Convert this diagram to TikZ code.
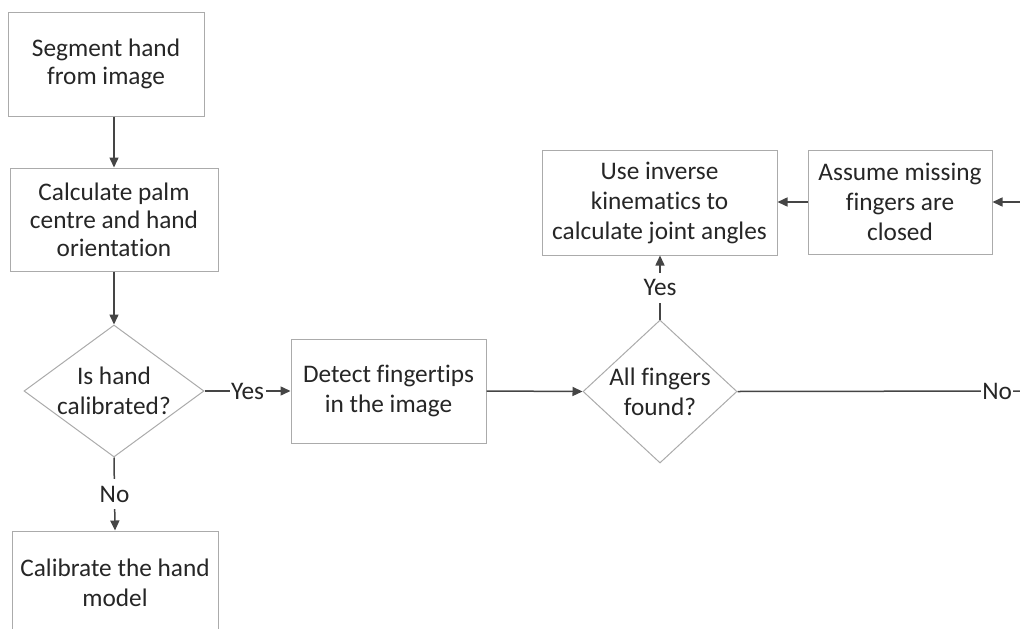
\documentclass[tikz,border=0pt]{standalone}
\usepackage{fontspec}
\setmainfont{Carlito}[Ligatures={TeX,NoCommon}]
\usetikzlibrary{shapes.geometric,arrows.meta}
\definecolor{boxline}{HTML}{ABABAB}
\definecolor{arrowline}{HTML}{454545}
\definecolor{txtcol}{HTML}{262626}

\begin{document}
\begin{tikzpicture}[x=1pt,y=-1pt,
  every node/.style={font=\fontsize{25.3}{30}\selectfont, text=txtcol},
  tight/.style={font=\fontsize{25.3}{28}\selectfont},
  stepbox/.style={draw=boxline, line width=1pt, fill=white, align=center, inner sep=0pt},
  decision/.style={shape=diamond, draw=boxline, line width=1pt, inner sep=0pt},
  dtext/.style={align=center, inner sep=0pt},
  conn/.style={draw=arrowline, line width=1.5pt, -{Triangle[length=10pt,width=9pt]}},
  plain/.style={draw=arrowline, line width=1.5pt},
  lab/.style={fill=white, inner xsep=1.5pt, inner ysep=0pt, minimum height=30pt}
]
\useasboundingbox (0,0) rectangle (1020,629);
\clip (0,0) rectangle (1020,629);

% process steps
\node[stepbox, tight, minimum width=196pt, minimum height=104pt] (b1) at (106,64) {Segment hand\\from image};
\node[stepbox, tight, minimum width=208pt, minimum height=103pt] (b2) at (114,219.5) {Calculate palm\\centre and hand\\orientation};
\node[stepbox, minimum width=195pt, minimum height=104pt] (b3) at (388.5,391) {Detect fingertips\\in the image};
\node[stepbox, minimum width=235pt, minimum height=105pt] (b4) at (659.5,202.5) {Use inverse\\kinematics to\\calculate joint angles};
\node[stepbox, minimum width=184pt, minimum height=104pt] (b5) at (900,202) {Assume missing\\fingers are\\closed};
\node[stepbox, minimum width=206pt, minimum height=104pt] (b6) at (115,583) {Calibrate the hand\\model};

% decisions
\node[decision, minimum width=180pt, minimum height=132pt] (d1) at (114,391) {};
\node[dtext] (d1t) at (d1) {Is hand\\calibrated?};
\node[decision, minimum width=154pt, minimum height=143pt] (d2) at (660,391.5) {};
\node[dtext] (d2t) at (d2) {All fingers\\found?};

% loose ends at the right margin
\coordinate (offR) at (1025,391);
\coordinate (inR) at (1025,202);

% connectors
\draw[conn] (b2.north |- b1.south) -- (b2.north);
\draw[conn] (b2.south) -- (d1.north);
\draw[conn] (d1.east) -- node[lab] (yes1) {Yes} (b3.west);
\draw[conn] (d1.south) -- node[lab] (no1) {No} (b6.north);
\draw[conn] (b3.east) -- (d2.west);
\draw[conn] (d2.north) -- node[lab] (yes2) {Yes} (d2.north |- b4.south);
\draw[conn] (b5.west) -- (b4.east |- b5.west);
\draw[conn] (inR) -- (b5.east);
\draw[plain] (d2.east) -- (offR) node[lab, pos=0.903] (no2) {No};
\end{tikzpicture}
\end{document}
